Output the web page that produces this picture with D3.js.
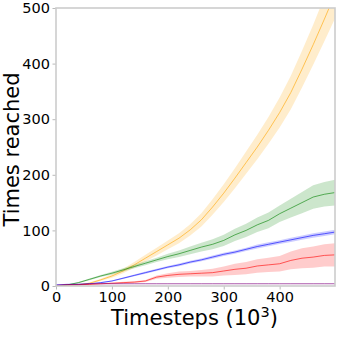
<!DOCTYPE html>
<html><head><meta charset="utf-8">
<script src="https://cdn.jsdelivr.net/npm/d3@7"></script>
<style>body{margin:0;background:#fff}svg{display:block}text{font-family:"DejaVu Sans",sans-serif}</style>
</head><body>
<svg id="c" width="341" height="337"></svg>
<script>
const steps = [0,20,40,60,80,100,120,140,160,180,200,220,240,260,280,300,320,340,360,380,400,420,440,460,480,499];
const orangeMean = [0,1,2,5,11,18,27,38,50,62,74,86,101,119,142,167,194,222,250,280,312,348,390,434,480,525];
const orangeStd  = [0,0.5,1,1.5,2,3,4,5,6,7,8,9,10,12,14,16,18,20,22,24,27,30,33,36,40,44];
const greenMean  = [0,2,6,12,18,23,29,35,41,47,53,58,64,70,75,82,92,100,110,118,130,140,150,160,165,168];
const greenStd   = [0,0.5,1,1.5,2,2.5,3,3,3.5,4,5,6,7,8,9,10,11,12,13,14,15,17,19,21,22,23];
const blueMean   = [2,3,3,4,6,9,14,19,24,29,34,38,43,47,52,57,61,66,71,75,79,83,87,91,94,97];
const blueStd    = [0.5,0.5,0.5,0.5,1,1,1.5,1.5,2,2,2,2.5,2.5,2.5,3,3,3,3,3.5,3.5,3.5,4,4,4,4,4];
const redMean    = [1,2,2,3,4,5,6,7,9,16,19,21,22,23,24,27,30,32,36,38,40,46,50,52,55,56];
const redStd     = [0.5,0.5,0.5,1,1,1,1.5,1.5,2,3,4,5,5,6,7,8,10,11,12,13,14,16,18,19,20,21];
const purpleMean = [1,2,3,4,4,4,4,4,4,4,4,4,4,4,4,4,4,4,4,4,4,4,4,4,4,4];
const purpleStd  = [0.3,0.3,0.3,0.3,0.3,0.3,0.3,0.3,0.3,0.3,0.3,0.3,0.3,0.3,0.3,0.3,0.3,0.3,0.3,0.3,0.3,0.3,0.3,0.3,0.3,0.3];
const xTicks = [0,100,200,300,400];
const yTicks = [0,100,200,300,400,500];

const series = [
  {mean: orangeMean, std: orangeStd, color: "#FFA500"},
  {mean: greenMean, std: greenStd, color: "#008000"},
  {mean: blueMean, std: blueStd, color: "#0000FF"},
  {mean: redMean, std: redStd, color: "#FF0000"},
  {mean: purpleMean, std: purpleStd, color: "#800080"}
];

const svg = d3.select("#c");
const L = 56, R = 335, T = 8, B = 286;
const x = d3.scaleLinear().domain([0, 499]).range([L, R]);
const y = d3.scaleLinear().domain([0, 500]).range([B, T]);

svg.append("clipPath").attr("id","clip").append("rect")
  .attr("x", L).attr("y", T).attr("width", R - L).attr("height", B - T);
const g = svg.append("g").attr("clip-path", "url(#clip)");

series.forEach(s => {
  const pts = steps.map((t, i) => ({t, m: s.mean[i], sd: s.std[i]}));
  g.append("path").datum(pts)
    .attr("d", d3.area().x(d => x(d.t)).y0(d => y(d.m - d.sd)).y1(d => y(d.m + d.sd)))
    .attr("fill", s.color).attr("fill-opacity", 0.2).attr("stroke", "none");
  g.append("path").datum(pts)
    .attr("d", d3.line().x(d => x(d.t)).y(d => y(d.m)))
    .attr("fill", "none").attr("stroke", s.color).attr("stroke-opacity", 0.6).attr("stroke-width", 1);
});

const xa = svg.append("g").attr("transform", `translate(0,${B})`)
  .call(d3.axisBottom(x).tickValues(xTicks).tickFormat(d3.format("d")).tickSize(3.5).tickPadding(2.5));
const ya = svg.append("g").attr("transform", `translate(${L},0)`)
  .call(d3.axisLeft(y).tickValues(yTicks).tickFormat(d3.format("d")).tickSize(3.5).tickPadding(2.5));
[xa, ya].forEach(a => {
  a.select(".domain").remove();
  a.selectAll(".tick line").attr("stroke", "#bbb");
  a.selectAll(".tick text").attr("font-size", "14.5px").attr("fill", "#000").attr("font-family", "DejaVu Sans, sans-serif");
});

const sp = svg.append("g").attr("stroke", "#cccccc").attr("stroke-width", 1.6).attr("fill", "none");
sp.append("rect").attr("x", L).attr("y", T).attr("width", R - L).attr("height", B - T);

svg.append("text").attr("x", 194.5).attr("y", 325).attr("text-anchor", "middle")
  .attr("font-size", "21px").attr("fill", "#000")
  .html('Timesteps (10<tspan dy="-8" font-size="14.5px">3</tspan><tspan dy="8">)</tspan>');
svg.append("text").attr("transform", "translate(18.5,149.5) rotate(-90)").attr("text-anchor", "middle")
  .attr("font-size", "21px").attr("fill", "#000").text("Times reached");
</script>
</body></html>
